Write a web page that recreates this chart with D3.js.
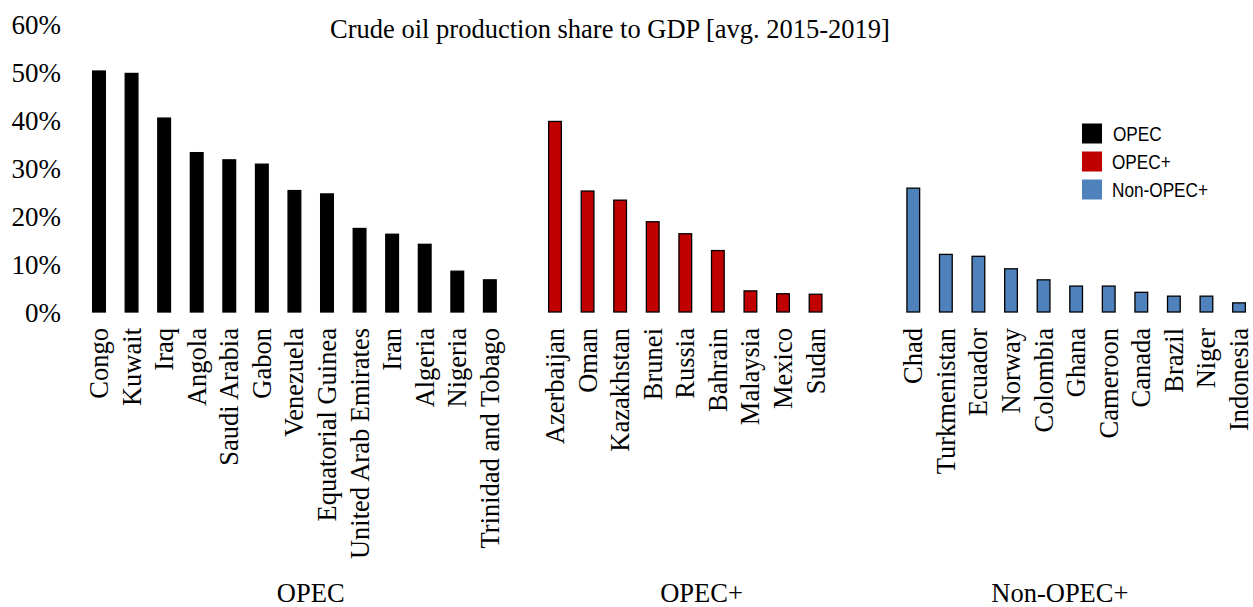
<!DOCTYPE html>
<html>
<head>
<meta charset="utf-8">
<script src="https://cdn.jsdelivr.net/npm/d3@7"></script>
<style>
  html, body { margin: 0; padding: 0; background: #fff; }
  svg { display: block; }
</style>
</head>
<body>
<svg id="chart" width="1253" height="607"></svg>
<script>
// ---------------- data ----------------
const chartTitle = "Crude oil production share to GDP [avg. 2015-2019]";
const groupNames = ["OPEC", "OPEC+", "Non-OPEC+"];
const groupColors = ["#000000", "#C00000", "#4F81BD"];

const opecCountries = ["Congo", "Kuwait", "Iraq", "Angola", "Saudi Arabia", "Gabon", "Venezuela",
  "Equatorial Guinea", "United Arab Emirates", "Iran", "Algeria", "Nigeria", "Trinidad and Tobago"];
const opecValues = [0.502, 0.497, 0.404, 0.332, 0.317, 0.308, 0.253, 0.246, 0.174, 0.162, 0.141, 0.085, 0.067];

const opecPlusCountries = ["Azerbaijan", "Oman", "Kazakhstan", "Brunei", "Russia", "Bahrain",
  "Malaysia", "Mexico", "Sudan"];
const opecPlusValues = [0.397, 0.252, 0.233, 0.188, 0.163, 0.128, 0.044, 0.038, 0.037];

const nonOpecCountries = ["Chad", "Turkmenistan", "Ecuador", "Norway", "Colombia", "Ghana",
  "Cameroon", "Canada", "Brazil", "Niger", "Indonesia"];
const nonOpecValues = [0.258, 0.120, 0.116, 0.090, 0.067, 0.054, 0.054, 0.041, 0.033, 0.033, 0.019];

const yTickValues = [0, 0.1, 0.2, 0.3, 0.4, 0.5, 0.6];

// ---------------- layout ----------------
const W = 1253, H = 607;
const plotTop = 24, plotBottom = 312;
const slotStart = 82.7, slotEnd = 1255.3;
const barFrac = 0.39;

// category slots (with blank separator slots as in the original multi-level axis)
const slots = [];
opecCountries.forEach((c, i) => slots.push({ key: c, label: c, value: opecValues[i], group: 0 }));
slots.push({ key: "_gap1", label: "", value: null, group: 0 });
opecPlusCountries.forEach((c, i) => slots.push({ key: c, label: c, value: opecPlusValues[i], group: 1 }));
slots.push({ key: "_gap2", label: "", value: null, group: 1 });
slots.push({ key: "_gap3", label: "", value: null, group: 2 });
nonOpecCountries.forEach((c, i) => slots.push({ key: c, label: c, value: nonOpecValues[i], group: 2 }));

const svg = d3.select("#chart");

const x = d3.scaleBand().domain(slots.map(d => d.key)).range([slotStart, slotEnd]).padding(0);
const y = d3.scaleLinear().domain([0, 0.6]).range([plotBottom, plotTop]);

const serif = "'Liberation Serif', 'Times New Roman', Times, serif";
const sans = "'Liberation Sans', Arial, Helvetica, sans-serif";

// title
svg.append("text")
  .attr("x", 610).attr("y", 38)
  .attr("text-anchor", "middle")
  .attr("font-family", serif).attr("font-size", 26.5)
  .attr("fill", "#000")
  .text(chartTitle);

// y axis (labels only)
const yAxis = d3.axisLeft(y).tickValues(yTickValues).tickFormat(d3.format(".0%")).tickSize(0).tickPadding(0);
const yG = svg.append("g").attr("transform", "translate(61,0)").call(yAxis);
yG.select(".domain").remove();
yG.selectAll("text")
  .attr("font-family", serif).attr("font-size", 27).attr("fill", "#000")
  .attr("dy", "0.34em");

// bars
const bw = x.bandwidth() * barFrac;
svg.append("g").selectAll("rect")
  .data(slots.filter(d => d.value !== null))
  .join("rect")
  .attr("x", d => x(d.key) + (x.bandwidth() - bw) / 2)
  .attr("y", d => y(d.value))
  .attr("width", bw)
  .attr("height", d => y(0) - y(d.value))
  .attr("fill", d => groupColors[d.group])
  .attr("stroke", "#000")
  .attr("stroke-width", 1.3);

// x category labels (rotated)
const xAxis = d3.axisBottom(x).tickSize(0).tickPadding(0).tickFormat(k => slots.find(s => s.key === k).label);
const xG = svg.append("g").attr("transform", `translate(0,${plotBottom})`).call(xAxis);
xG.select(".domain").remove();
xG.selectAll("text")
  .attr("font-family", serif).attr("font-size", 26.5).attr("fill", "#000")
  .attr("text-anchor", "end")
  .attr("transform", "translate(0,16) rotate(-90)")
  .attr("x", 0).attr("y", 0)
  .attr("dy", "0.34em");

// group labels centred over their slot spans
groupNames.forEach((g, gi) => {
  const gs = slots.filter(s => s.group === gi);
  const x0 = x(gs[0].key), x1 = x(gs[gs.length - 1].key) + x.bandwidth();
  svg.append("text")
    .attr("x", (x0 + x1) / 2).attr("y", 602)
    .attr("text-anchor", "middle")
    .attr("font-family", serif).attr("font-size", 26.5).attr("fill", "#000")
    .text(g);
});

// legend
const legend = svg.append("g").attr("transform", "translate(1082,123.5)");
groupNames.forEach((g, i) => {
  const row = legend.append("g").attr("transform", `translate(0,${i * 28})`);
  row.append("rect").attr("width", 20).attr("height", 20).attr("fill", groupColors[i]);
  row.append("text")
    .attr("transform", `translate(${i === 0 ? 31 : 30},10) scale(0.86,1)`)
    .attr("dy", "0.36em")
    .attr("font-family", sans).attr("font-size", 20).attr("fill", "#000")
    .text(g);
});
</script>
</body>
</html>
